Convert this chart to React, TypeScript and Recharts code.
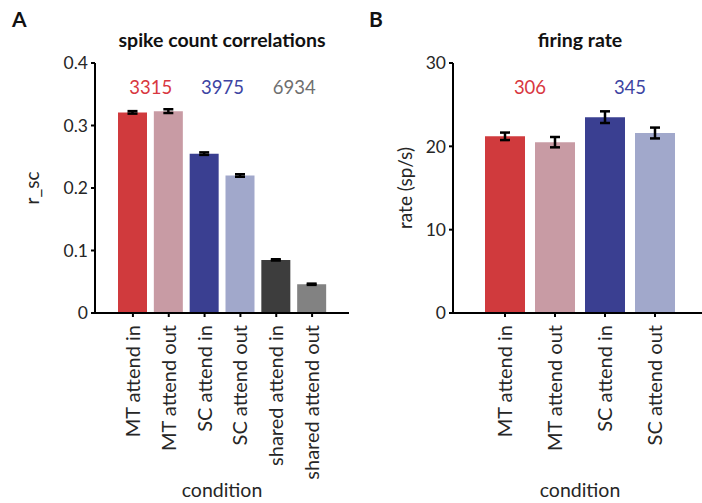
import { ComposedChart, Bar, Cell, XAxis, YAxis, ErrorBar, ReferenceDot, Label } from 'recharts';

// panel A: spike count correlations
const CONDITIONS_A = ['MT attend in', 'MT attend out', 'SC attend in', 'SC attend out', 'shared attend in', 'shared attend out'];
const GROUP_OF_A = ['MT', 'MT', 'SC', 'SC', 'shared', 'shared'];
const RSC = [0.321, 0.323, 0.255, 0.22, 0.085, 0.046];
const RSC_ERR = [0.002, 0.003, 0.002, 0.002, 0.001, 0.001];
const RSC_TICKS = [0, 0.1, 0.2, 0.3, 0.4];
const GROUPS_A = ['MT', 'SC', 'shared'];
const COUNTS_A = ['3315', '3975', '6934'];

// panel B: firing rate
const CONDITIONS_B = ['MT attend in', 'MT attend out', 'SC attend in', 'SC attend out'];
const GROUP_OF_B = ['MT', 'MT', 'SC', 'SC'];
const RATE = [21.2, 20.5, 23.5, 21.6];
const RATE_ERR = [0.45, 0.62, 0.7, 0.65];
const RATE_TICKS = [0, 10, 20, 30];
const GROUPS_B = ['MT', 'SC'];
const COUNTS_B = ['306', '345'];

const BAR_COLORS = ['#d03a3d', '#c89ba4', '#3a3f91', '#a1a8cb', '#3d3d3d', '#828282'];
const COUNT_COLORS = ['#d8373f', '#3d44a3', '#6f6f6f'];

const dataA = CONDITIONS_A.map((c, i) => ({ cond: c, group: GROUP_OF_A[i], v: RSC[i], err: RSC_ERR[i] }));
const dataB = CONDITIONS_B.map((c, i) => ({ cond: c, group: GROUP_OF_B[i], v: RATE[i], err: RATE_ERR[i] }));

const FONT = 'Lato, "Open Sans", sans-serif';
const INK = '#262626';

const RotTick = ({ x, y, payload }: any) => (
  <text x={x} y={y} transform={`rotate(-90, ${x}, ${y})`} textAnchor="end" dy="0.35em"
    fontSize={20} fill={INK} fontFamily={FONT}>{payload.value}</text>
);

const yLabel = (text: string, bx: number) => ({ viewBox }: any) => {
  const cy = viewBox.y + viewBox.height / 2;
  return (
    <text x={bx} y={cy} transform={`rotate(-90, ${bx}, ${cy})`} textAnchor="middle"
      fontSize={19} fill={INK} fontFamily={FONT}>{text}</text>
  );
};

const axisLine = { stroke: '#000', strokeWidth: 2 };
const tickLine = { stroke: '#000', strokeWidth: 2 };
const tickStyle = { fontSize: 17.5, fill: INK, fontFamily: FONT };

export default function App() {
  return (
    <div style={{ position: 'absolute', left: 0, top: 0, width: 702, height: 503, overflow: 'hidden', background: '#fff' }}>
      <svg width={702} height={503} style={{ position: 'absolute', left: 0, top: 0 }}>
        <text x={12} y={27} fontSize={21} fontWeight="bold" fill="#111" fontFamily={FONT}>A</text>
        <text x={369} y={27} fontSize={21} fontWeight="bold" fill="#111" fontFamily={FONT}>B</text>
        <text x={222} y={47} textAnchor="middle" fontSize={19.5} fontWeight="bold" fill="#111" fontFamily={FONT}>spike count correlations</text>
        <text x={580} y={47} textAnchor="middle" fontSize={19.5} fontWeight="bold" fill="#111" fontFamily={FONT}>firing rate</text>
      </svg>

      <div style={{ position: 'absolute', left: 0, top: 0 }}>
        <ComposedChart width={360} height={503} data={dataA} margin={{ top: 63, right: 11, bottom: 0, left: 0 }}>
          <XAxis dataKey="cond" height={190} interval={0} padding={{ left: 20, right: 19 }}
            axisLine={axisLine} tickLine={tickLine} tickSize={4} tickMargin={8} tick={<RotTick />}>
            <Label value="condition" position="insideBottom" offset={6} fontSize={19.5} fill={INK} fontFamily={FONT} />
          </XAxis>
          <XAxis xAxisId="grp" dataKey="group" hide allowDuplicatedCategory={false} padding={{ left: 20, right: 19 }} />
          <YAxis width={95} domain={[0, 0.4]} ticks={RSC_TICKS} interval={0} axisLine={axisLine} tickLine={tickLine}
            tickSize={4} tickMargin={3} tick={tickStyle}>
            <Label content={yLabel('r_sc', 39)} />
          </YAxis>
          <Bar dataKey="v" barSize={29} isAnimationActive={false}>
            {dataA.map((d, i) => <Cell key={d.cond} fill={BAR_COLORS[i]} />)}
            <ErrorBar dataKey="err" width={5} stroke="#000" strokeWidth={2.5} isAnimationActive={false} />
          </Bar>
          {GROUPS_A.map((g, i) => (
            <ReferenceDot key={g} xAxisId="grp" x={g} y={0.361} r={0} stroke="none" fill="none"
              label={{ value: COUNTS_A[i], position: 'center', fill: COUNT_COLORS[i], fontSize: 18.5, fontFamily: FONT }} />
          ))}
        </ComposedChart>
      </div>

      <div style={{ position: 'absolute', left: 360, top: 0 }}>
        <ComposedChart width={350} height={503} data={dataB} margin={{ top: 63, right: 3, bottom: 0, left: 0 }}>
          <XAxis dataKey="cond" height={190} interval={0} padding={{ left: 27, right: 27 }}
            axisLine={axisLine} tickLine={tickLine} tickSize={4} tickMargin={8} tick={<RotTick />}>
            <Label value="condition" position="insideBottom" offset={6} fontSize={19.5} fill={INK} fontFamily={FONT} />
          </XAxis>
          <XAxis xAxisId="grp" dataKey="group" hide allowDuplicatedCategory={false} padding={{ left: 27, right: 27 }} />
          <YAxis width={93} domain={[0, 30]} ticks={RATE_TICKS} interval={0} axisLine={axisLine} tickLine={tickLine}
            tickSize={4} tickMargin={3} tick={tickStyle}>
            <Label content={yLabel('rate (sp/s)', 52)} />
          </YAxis>
          <Bar dataKey="v" barSize={40} isAnimationActive={false}>
            {dataB.map((d, i) => <Cell key={d.cond} fill={BAR_COLORS[i]} />)}
            <ErrorBar dataKey="err" width={5} stroke="#000" strokeWidth={2.5} isAnimationActive={false} />
          </Bar>
          {GROUPS_B.map((g, i) => (
            <ReferenceDot key={g} xAxisId="grp" x={g} y={27.06} r={0} stroke="none" fill="none"
              label={{ value: COUNTS_B[i], position: 'center', fill: COUNT_COLORS[i], fontSize: 18.5, fontFamily: FONT }} />
          ))}
        </ComposedChart>
      </div>
    </div>
  );
}
